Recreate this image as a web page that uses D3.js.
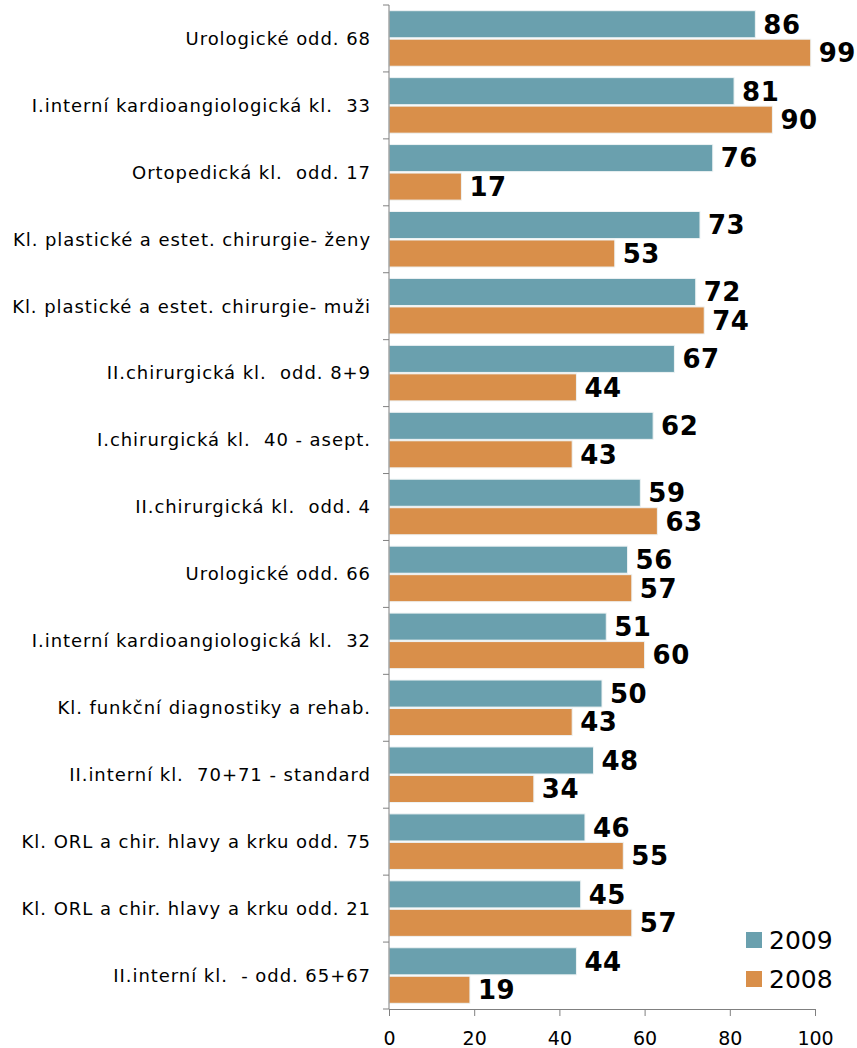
<!DOCTYPE html>
<html>
<head>
<meta charset="utf-8">
<script src="https://cdn.jsdelivr.net/npm/d3@7"></script>
<style>
  body { margin: 0; background: #fff; }
  svg { display: block; font-family: "DejaVu Sans", Verdana, sans-serif; }
  .cat text { white-space: pre; }
</style>
</head>
<body>
<svg width="857" height="1048"></svg>
<script>
const svg = d3.select('svg');

const categories = [
    'Urologické odd. 68',
    'I.interní kardioangiologická kl.  33',
    'Ortopedická kl.  odd. 17',
    'Kl. plastické a estet. chirurgie- ženy',
    'Kl. plastické a estet. chirurgie- muži',
    'II.chirurgická kl.  odd. 8+9',
    'I.chirurgická kl.  40 - asept.',
    'II.chirurgická kl.  odd. 4',
    'Urologické odd. 66',
    'I.interní kardioangiologická kl.  32',
    'Kl. funkční diagnostiky a rehab.',
    'II.interní kl.  70+71 - standard',
    'Kl. ORL a chir. hlavy a krku odd. 75',
    'Kl. ORL a chir. hlavy a krku odd. 21',
    'II.interní kl.  - odd. 65+67'
];
const values2009 = [86, 81, 76, 73, 72, 67, 62, 59, 56, 51, 50, 48, 46, 45, 44];
const values2008 = [99, 90, 17, 53, 74, 44, 43, 63, 57, 60, 43, 34, 55, 57, 19];
const seriesNames = ['2009', '2008'];
const xTicks = [0, 20, 40, 60, 80, 100];

const colors = {'2009': '#6aa0ae', '2008': '#d98f4a'};
const margin = {top: 5, left: 389, right: 42, bottom: 39};
const width = 857 - margin.left - margin.right;
const height = 1048 - margin.top - margin.bottom;

const data = categories.map((c, i) => ({cat: c, '2009': values2009[i], '2008': values2008[i]}));

const x = d3.scaleLinear().domain([0, 100]).range([0, width]);
const y = d3.scaleBand().domain(categories).range([0, height]).paddingInner(0.17).paddingOuter(0.085);
const ySub = d3.scaleBand().domain(seriesNames).range([0, y.bandwidth()]).paddingInner(0.05);

const g = svg.append('g').attr('transform', 'translate(' + margin.left + ',' + margin.top + ')');

// bars
const groups = g.selectAll('.grp')
    .data(data)
    .enter().append('g')
    .attr('class', 'grp')
    .attr('transform', d => 'translate(0,' + y(d.cat) + ')');

groups.selectAll('rect')
    .data(d => seriesNames.map(s => ({s: s, v: d[s]})))
    .enter().append('rect')
    .attr('x', 0)
    .attr('y', d => ySub(d.s))
    .attr('width', d => x(d.v))
    .attr('height', ySub.bandwidth())
    .style('fill', d => colors[d.s])
    .style('stroke', '#eef3f4')
    .style('stroke-width', 1);

groups.selectAll('text.val')
    .data(d => seriesNames.map(s => ({s: s, v: d[s]})))
    .enter().append('text')
    .attr('class', 'val')
    .attr('x', d => x(d.v) + 8)
    .attr('y', d => ySub(d.s) + ySub.bandwidth() / 2)
    .attr('dy', '0.36em')
    .style('font-size', '26px')
    .style('font-weight', 'bold')
    .style('letter-spacing', '0.5px')
    .style('fill', '#000')
    .text(d => d.v);

// x axis
const xAxis = g.append('g')
    .attr('transform', 'translate(0,' + height + ')')
    .call(d3.axisBottom(x).tickValues(xTicks).tickSize(7).tickPadding(16));
xAxis.selectAll('text').style('font-size', '19px').style('fill', '#000').style('font-family', '"DejaVu Sans", Verdana, sans-serif');
xAxis.selectAll('line, path').style('stroke', '#808080');

// y axis: Excel-style ticks between categories
const yAxis = g.append('g').attr('class', 'cat');
yAxis.append('line')
    .attr('x1', 0).attr('x2', 0).attr('y1', 0).attr('y2', height)
    .style('stroke', '#808080');
yAxis.selectAll('line.tk')
    .data(d3.range(categories.length + 1))
    .enter().append('line')
    .attr('class', 'tk')
    .attr('x1', -6).attr('x2', 0)
    .attr('y1', i => i * height / categories.length)
    .attr('y2', i => i * height / categories.length)
    .style('stroke', '#808080');
yAxis.selectAll('text')
    .data(categories)
    .enter().append('text')
    .attr('x', -18)
    .attr('y', d => y(d) + y.bandwidth() / 2)
    .attr('dy', '0.35em')
    .style('text-anchor', 'end')
    .style('font-size', '18px')
    .style('letter-spacing', '0.95px')
    .style('fill', '#000')
    .text(d => d);

// legend
const legend = svg.append('g').attr('transform', 'translate(746, 932)');
seriesNames.forEach((s, i) => {
    const row = legend.append('g').attr('transform', 'translate(0,' + (i * 39) + ')');
    row.append('rect')
        .attr('width', 16).attr('height', 16)
        .style('fill', colors[s]);
    row.append('text')
        .attr('x', 23).attr('y', 8)
        .attr('dy', '0.36em')
        .style('font-size', '25px')
        .text(s);
});
</script>
</body>
</html>
